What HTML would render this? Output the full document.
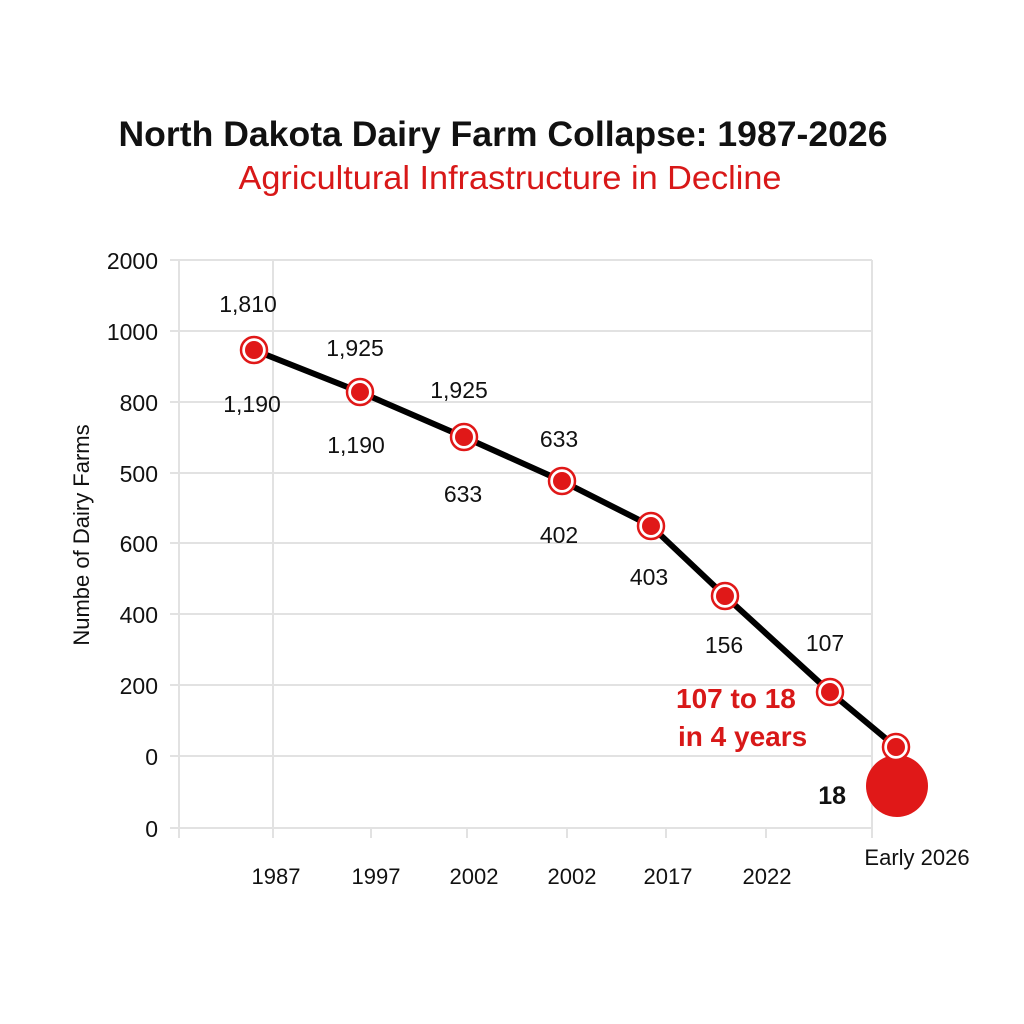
<!DOCTYPE html>
<html><head><style>body{margin:0;background:#fff}svg{display:block}</style></head><body>
<svg width="1024" height="1024" viewBox="0 0 1024 1024" xmlns="http://www.w3.org/2000/svg" font-family="Liberation Sans, sans-serif">
<rect width="1024" height="1024" fill="#fff"/>
<text x="503" y="146" text-anchor="middle" font-size="35" font-weight="bold" fill="#111" textLength="769" lengthAdjust="spacingAndGlyphs">North Dakota Dairy Farm Collapse: 1987-2026</text>
<text x="510" y="189" text-anchor="middle" font-size="33" fill="#d81818" textLength="543" lengthAdjust="spacingAndGlyphs">Agricultural Infrastructure in Decline</text>
<g stroke="#e2e2e2" stroke-width="2">
<line x1="170" y1="260" x2="872" y2="260"/><line x1="170" y1="331" x2="872" y2="331"/><line x1="170" y1="402" x2="872" y2="402"/><line x1="170" y1="473" x2="872" y2="473"/><line x1="170" y1="543" x2="872" y2="543"/><line x1="170" y1="614" x2="872" y2="614"/><line x1="170" y1="685" x2="872" y2="685"/><line x1="170" y1="756" x2="872" y2="756"/><line x1="170" y1="828" x2="872" y2="828"/>
<line x1="179" y1="260" x2="179" y2="838"/><line x1="273" y1="260" x2="273" y2="838"/><line x1="371" y1="828" x2="371" y2="838"/><line x1="467" y1="828" x2="467" y2="838"/><line x1="567" y1="828" x2="567" y2="838"/><line x1="666" y1="828" x2="666" y2="838"/><line x1="766" y1="828" x2="766" y2="838"/><line x1="872" y1="260" x2="872" y2="838"/>
</g>
<g font-size="23" fill="#111" text-anchor="end">
<text x="158" y="269">2000</text><text x="158" y="340">1000</text><text x="158" y="411">800</text><text x="158" y="482">500</text><text x="158" y="552">600</text><text x="158" y="623">400</text><text x="158" y="694">200</text><text x="158" y="765">0</text><text x="158" y="837">0</text>
</g>
<text transform="translate(89,535) rotate(-90)" text-anchor="middle" font-size="22" fill="#111">Numbe of Dairy Farms</text>
<g font-size="22" fill="#111" text-anchor="middle">
<text x="276" y="884">1987</text><text x="376" y="884">1997</text><text x="474" y="884">2002</text><text x="572" y="884">2002</text><text x="668" y="884">2017</text><text x="767" y="884">2022</text><text x="917" y="865">Early 2026</text>
</g>
<polyline points="254,350 360,392 464,437 562,481 651,526 725,596 830,692 896,747" fill="none" stroke="#000" stroke-width="6" stroke-linejoin="round"/>
<circle cx="897" cy="786" r="31" fill="#e01818"/>
<g fill="#e01818" stroke="#e01818" stroke-width="2.5">
<g><circle cx="254" cy="350" r="13" fill="#fff"/><circle cx="254" cy="350" r="9" stroke="none"/></g>
<g><circle cx="360" cy="392" r="13" fill="#fff"/><circle cx="360" cy="392" r="9" stroke="none"/></g>
<g><circle cx="464" cy="437" r="13" fill="#fff"/><circle cx="464" cy="437" r="9" stroke="none"/></g>
<g><circle cx="562" cy="481" r="13" fill="#fff"/><circle cx="562" cy="481" r="9" stroke="none"/></g>
<g><circle cx="651" cy="526" r="13" fill="#fff"/><circle cx="651" cy="526" r="9" stroke="none"/></g>
<g><circle cx="725" cy="596" r="13" fill="#fff"/><circle cx="725" cy="596" r="9" stroke="none"/></g>
<g><circle cx="830" cy="692" r="13" fill="#fff"/><circle cx="830" cy="692" r="9" stroke="none"/></g>
<g><circle cx="896" cy="747" r="13" fill="#fff"/><circle cx="896" cy="747" r="9" stroke="none"/></g>
</g>
<g font-size="23" fill="#111" text-anchor="middle">
<text x="248" y="312">1,810</text><text x="252" y="412">1,190</text>
<text x="355" y="356">1,925</text><text x="356" y="453">1,190</text>
<text x="459" y="398">1,925</text><text x="463" y="502">633</text>
<text x="559" y="447">633</text><text x="559" y="543">402</text>
<text x="649" y="585">403</text><text x="724" y="653">156</text>
<text x="825" y="651">107</text>
</g>
<g font-size="28" font-weight="bold" fill="#d81818">
<text x="676" y="708">107 to 18</text><text x="678" y="746">in 4 years</text>
</g>
<text x="846" y="804" text-anchor="end" font-size="25" font-weight="bold" fill="#111">18</text>
</svg>
</body></html>
